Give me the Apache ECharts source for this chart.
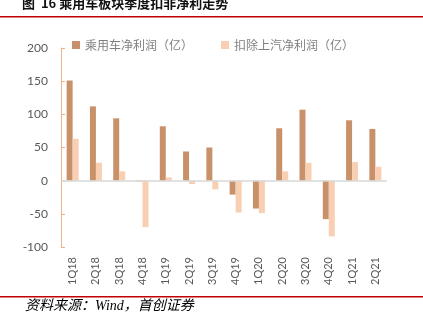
<!DOCTYPE html>
<html><head><meta charset="utf-8">
<script src="https://cdn.jsdelivr.net/npm/echarts@6/dist/echarts.min.js"></script>
<style>html,body{margin:0;padding:0;background:#fff}#c{width:423px;height:326px}</style>
</head><body><div id="c"></div>
<script>
var categories = ['1Q18','2Q18','3Q18','4Q18','1Q19','2Q19','3Q19','4Q19','1Q20','2Q20','3Q20','4Q20','1Q21','2Q21'];
var seriesNames = ['乘用车净利润（亿）','扣除上汽净利润（亿）'];
var passengerProfit = [151, 112, 94, -1, 82, 44, 50, -21, -42, 79, 107, -58, 91, 78];
var exSaicProfit = [63, 27, 14, -70, 5, -5, -13, -48, -49, 14, 27, -84, 28, 21];
var yTicks = [-100, -50, 0, 50, 100, 150, 200];
var titleText = '图  16 乘用车板块季度扣非净利走势';
var sourceText = '资料来源：Wind，首创证券';

var chart = echarts.init(document.getElementById('c'));
chart.setOption({
  animation: false,
  backgroundColor: '#fff',
  textStyle: {fontFamily: '"Noto Sans CJK SC", sans-serif'},
  grid: {left: 61, right: 36, top: 48, bottom: 79, containLabel: false},
  legend: {
    top: 34, left: 67, itemWidth: 8, itemHeight: 8, itemGap: 28,
    icon: 'rect',
    textStyle: {color: '#7f7f7f', fontSize: 12},
    data: seriesNames
  },
  xAxis: {
    type: 'category', data: categories,
    axisLine: {show: false}, axisTick: {show: false},
    axisLabel: {rotate: 90, margin: 10, color: '#595959', fontSize: 11, fontFamily: 'Lato, "Open Sans", sans-serif'}
  },
  yAxis: {
    type: 'value', min: yTicks[0], max: yTicks[yTicks.length-1], interval: 50,
    axisLine: {show: true, lineStyle: {color: '#F4B183', width: 1}},
    axisTick: {show: true, inside: true, length: 4, lineStyle: {color: '#F4B183'}},
    splitLine: {show: false},
    axisLabel: {margin: 13, color: '#595959', fontSize: 12, fontFamily: 'Lato, "Open Sans", sans-serif'}
  },
  series: [
    {name: seriesNames[0], type: 'bar', data: passengerProfit, barWidth: 6, barGap: '0%',
     itemStyle: {color: '#C9916A'},
     markLine: {silent: true, symbol: 'none', label: {show: false},
       lineStyle: {color: '#D9D9D9', type: 'solid', width: 1.5},
       data: [{yAxis: 0}]}},
    {name: seriesNames[1], type: 'bar', data: exSaicProfit, barWidth: 6,
     itemStyle: {color: '#F9CFB3'}}
  ],
  graphic: [
    {type: 'text', left: 22, top: -3, style: {text: titleText, fill: '#111', font: '600 13px "Noto Sans CJK SC", sans-serif'}},
    {type: 'rect', shape: {x: 0, y: 16, width: 423, height: 1.5}, style: {fill: '#C00000'}},
    {type: 'rect', shape: {x: 0, y: 296, width: 423, height: 1.5}, style: {fill: '#C00000'}},
    {type: 'text', left: 25, top: 299, style: {text: sourceText, fill: '#000', font: 'italic 14px "Liberation Serif", "Noto Sans CJK SC", serif'}}
  ]
});
</script></body></html>
